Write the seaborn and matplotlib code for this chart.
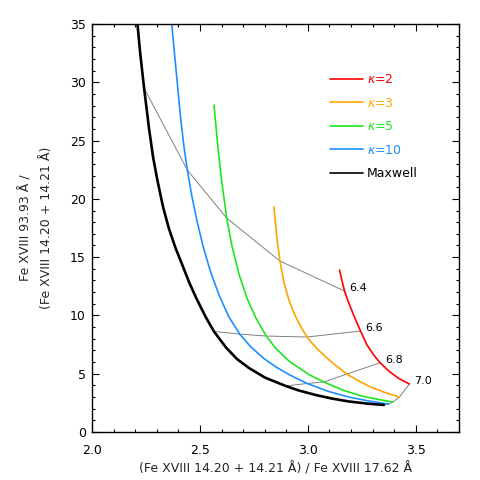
import numpy as np
import pandas as pd
import seaborn as sns
import matplotlib
matplotlib.use("Agg")
import matplotlib.pyplot as plt

# curves: x = (14.20+14.21)/17.62 , y = 93.93/(14.20+14.21)
maxwell_x = [2.2083, 2.2222, 2.2407, 2.2639, 2.2824, 2.3023, 2.3287, 2.3565, 2.3866, 2.4181,
             2.4491, 2.4801, 2.5264, 2.5648, 2.6204, 2.6713, 2.7269, 2.8009, 2.8968, 2.9583,
             3.0370, 3.1111, 3.1898, 3.2731, 3.3519]
maxwell_y = [35.33, 32.59, 29.50, 25.99, 23.58, 21.61, 19.30, 17.41, 15.78, 14.32,
             12.86, 11.58, 9.86, 8.62, 7.25, 6.26, 5.49, 4.67, 3.95, 3.56,
             3.17, 2.87, 2.62, 2.44, 2.32]

k10_x = [2.3671, 2.3889, 2.4106, 2.4259, 2.4412, 2.4630, 2.4861, 2.5139, 2.5463, 2.5880,
         2.6343, 2.6838, 2.7361, 2.7963, 2.8565, 2.9120, 2.9968, 3.0972, 3.1898, 3.2824, 3.3750]
k10_y = [35.33, 31.05, 26.84, 24.44, 22.47, 20.15, 18.10, 15.95, 13.89, 11.75,
         9.86, 8.40, 7.29, 6.30, 5.53, 4.93, 4.16, 3.47, 3.00, 2.66, 2.40]

k5_x = [2.5648, 2.5810, 2.5986, 2.6236, 2.6481, 2.6806, 2.7190, 2.7593, 2.8069, 2.8519,
        2.9120, 3.0046, 3.0741, 3.1667, 3.2593, 3.3287, 3.3935]
k5_y = [28.04, 24.79, 21.78, 18.35, 15.95, 13.55, 11.41, 9.78, 8.23, 7.16,
        6.09, 4.93, 4.29, 3.56, 3.04, 2.79, 2.57]

k3_x = [2.8426, 2.8565, 2.8704, 2.8889, 2.9120, 2.9352, 2.9583, 2.9815, 2.9968, 3.0046,
        3.0417, 3.0833, 3.1296, 3.1806, 3.2361, 3.2963, 3.3565, 3.4245]
k3_y = [19.30, 16.64, 14.67, 12.86, 11.32, 10.21, 9.35, 8.58, 8.15, 7.93,
        7.16, 6.43, 5.70, 4.97, 4.37, 3.82, 3.39, 3.00]

k2_x = [3.1468, 3.1574, 3.1699, 3.1898, 3.2130, 3.2440, 3.2731, 3.3056, 3.3347, 3.3750, 3.4213, 3.4708]
k2_y = [13.89, 13.04, 12.09, 11.06, 9.99, 8.66, 7.50, 6.60, 5.94, 5.23, 4.59, 4.12]

# log T markers: points on Maxwell, k=10, k=5, k=3, k=2
logT = ["6.4", "6.6", "6.8", "7.0"]
iso_x = [[2.2407, 2.4412, 2.6236, 2.8704, 3.1699],
         [2.5648, 2.6838, 2.8069, 2.9968, 3.2440],
         [2.8968, 2.9968, 3.0741, 3.1806, 3.3347],
         [3.3519, 3.3750, 3.3935, 3.4245, 3.4708]]
iso_y = [[29.50, 22.47, 18.35, 14.67, 12.09],
         [8.62, 8.40, 8.23, 8.15, 8.66],
         [3.95, 4.16, 4.29, 4.97, 5.94],
         [2.32, 2.40, 2.57, 3.00, 4.12]]

labels = [r"$\kappa$=2", r"$\kappa$=3", r"$\kappa$=5", r"$\kappa$=10", "Maxwell"]
colors = ["#ff0000", "#ffa500", "#1ee61e", "#1e8fff", "black"]

sns.set_style("ticks")
plt.rcParams["font.family"] = ["DejaVu Sans"]
plt.rcParams["xtick.direction"] = "in"
plt.rcParams["ytick.direction"] = "in"

fig = plt.figure(figsize=(4.8, 4.8), dpi=100)
ax = fig.add_axes([0.192, 0.1, 0.764, 0.85])

# thin grey temperature lines
for t, xs, ys in zip(logT, iso_x, iso_y):
    sns.lineplot(x=xs, y=ys, ax=ax, color="#808080", lw=0.7, sort=False, estimator=None)
    ax.annotate(t, (xs[-1], ys[-1]), xytext=(3.5, 2.2), textcoords="offset points",
                ha="left", va="center", fontsize=8, color="black")

curves = [(k2_x, k2_y), (k3_x, k3_y), (k5_x, k5_y), (k10_x, k10_y), (maxwell_x, maxwell_y)]
for (xs, ys), lab, c in zip(curves, labels, colors):
    lw = 1.9 if lab == "Maxwell" else 1.2
    sns.lineplot(x=xs, y=ys, ax=ax, color=c, lw=lw, sort=False, estimator=None, label=lab)

ax.set_xlim(2.0, 3.7)
ax.set_ylim(0, 35)
ax.set_xticks([2.0, 2.5, 3.0, 3.5])
ax.set_xticklabels(["2.0", "2.5", "3.0", "3.5"])
ax.set_yticks(range(0, 36, 5))
ax.set_xticks(np.arange(2.0, 3.71, 0.1), minor=True)
ax.set_yticks(range(0, 36, 1), minor=True)
ax.tick_params(which="both", top=True, right=True, labelsize=9, width=0.8, colors="black")
ax.tick_params(which="major", length=5)
ax.tick_params(which="minor", length=2.5)
ax.tick_params(axis="x", which="major", pad=9)
ax.tick_params(axis="y", which="major", pad=4.5)
for s in ax.spines.values():
    s.set_linewidth(1.0)
    s.set_color("black")

ax.set_xlabel("(Fe XVIII 14.20 + 14.21 Å) / Fe XVIII 17.62 Å", fontsize=9, labelpad=3)
ax.set_ylabel("Fe XVIII 93.93 Å /\n(Fe XVIII 14.20 + 14.21 Å)", fontsize=9, labelpad=12,
              linespacing=1.8)

leg = ax.legend(loc="upper left", bbox_to_anchor=(0.649, 0.88), frameon=False, fontsize=9,
                handlelength=2.6, handletextpad=0.35, labelspacing=0.85, borderpad=0,
                borderaxespad=0, labelcolor="linecolor")
for h in leg.get_lines():
    h.set_linewidth(1.2)

fig.savefig("out.png", dpi=100)
